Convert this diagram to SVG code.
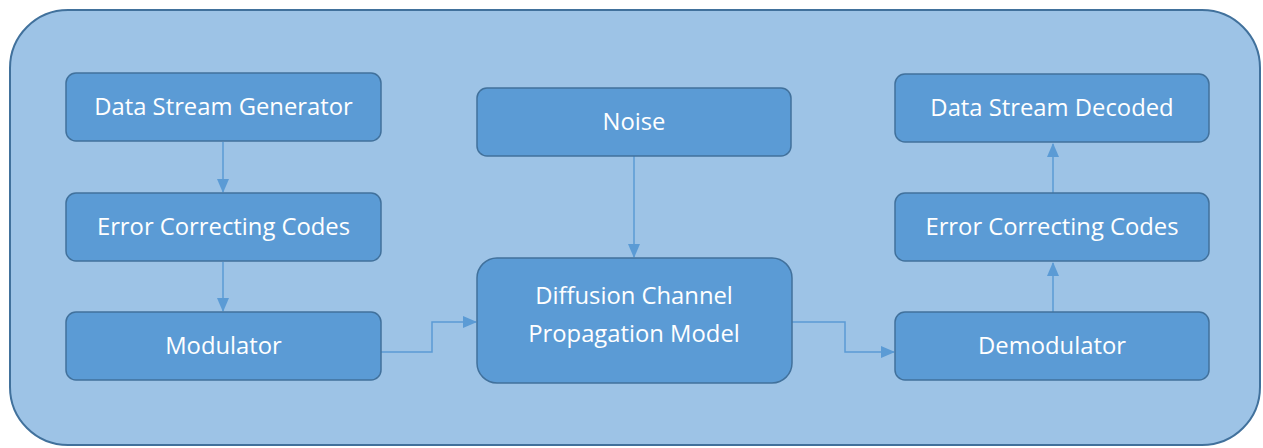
<svg xmlns="http://www.w3.org/2000/svg" width="1263" height="448" viewBox="0 0 1263 448">
<defs>
<style>
.box{fill:#5B9BD5;stroke:#41719C;stroke-width:1.5}
.t{fill:#ffffff;font-family:"Open Sans","Liberation Sans",sans-serif;font-size:23.8px;text-anchor:middle}
.c{fill:none;stroke:#5B9BD5;stroke-width:1.5}
</style>
<marker id="ah" markerWidth="14" markerHeight="12" refX="13" refY="6" orient="auto" markerUnits="userSpaceOnUse">
<path d="M0,0 L14,6 L0,12 Z" fill="#5B9BD5"/>
</marker>
</defs>
<rect x="10" y="10" width="1250" height="435" rx="58" ry="58" fill="#9DC3E6" stroke="#41719C" stroke-width="2"/>
<g id="connectors">
<path class="c" d="M223,142 V192" marker-end="url(#ah)"/>
<path class="c" d="M223,262 V311" marker-end="url(#ah)"/>
<path class="c" d="M381,352 H432 V322 H476" marker-end="url(#ah)"/>
<path class="c" d="M634,156 V257" marker-end="url(#ah)"/>
<path class="c" d="M792,322 H845 V352 H894" marker-end="url(#ah)"/>
<path class="c" d="M1053,312 V263" marker-end="url(#ah)"/>
<path class="c" d="M1053,193 V144" marker-end="url(#ah)"/>
</g>
<g id="dsg"><rect class="box" x="66" y="73" width="315" height="68" rx="10"/><text class="t" x="223.5" y="115">Data Stream Generator</text></g>
<g id="ecc1"><rect class="box" x="66" y="193" width="315" height="68" rx="10"/><text class="t" x="223.5" y="235">Error Correcting Codes</text></g>
<g id="mod"><rect class="box" x="66" y="312" width="315" height="68" rx="10"/><text class="t" x="223.5" y="354">Modulator</text></g>
<g id="noise"><rect class="box" x="477" y="88" width="314" height="68" rx="10"/><text class="t" x="634" y="130">Noise</text></g>
<g id="diff"><rect class="box" x="477" y="258" width="315" height="125" rx="20"/><text class="t" x="634" y="304">Diffusion Channel</text><text class="t" x="634" y="342">Propagation Model</text></g>
<g id="dsd"><rect class="box" x="895" y="74" width="314" height="68" rx="10"/><text class="t" x="1052" y="116">Data Stream Decoded</text></g>
<g id="ecc2"><rect class="box" x="895" y="193" width="314" height="68" rx="10"/><text class="t" x="1052" y="235">Error Correcting Codes</text></g>
<g id="demod"><rect class="box" x="895" y="312" width="314" height="68" rx="10"/><text class="t" x="1052" y="354">Demodulator</text></g>
</svg>
